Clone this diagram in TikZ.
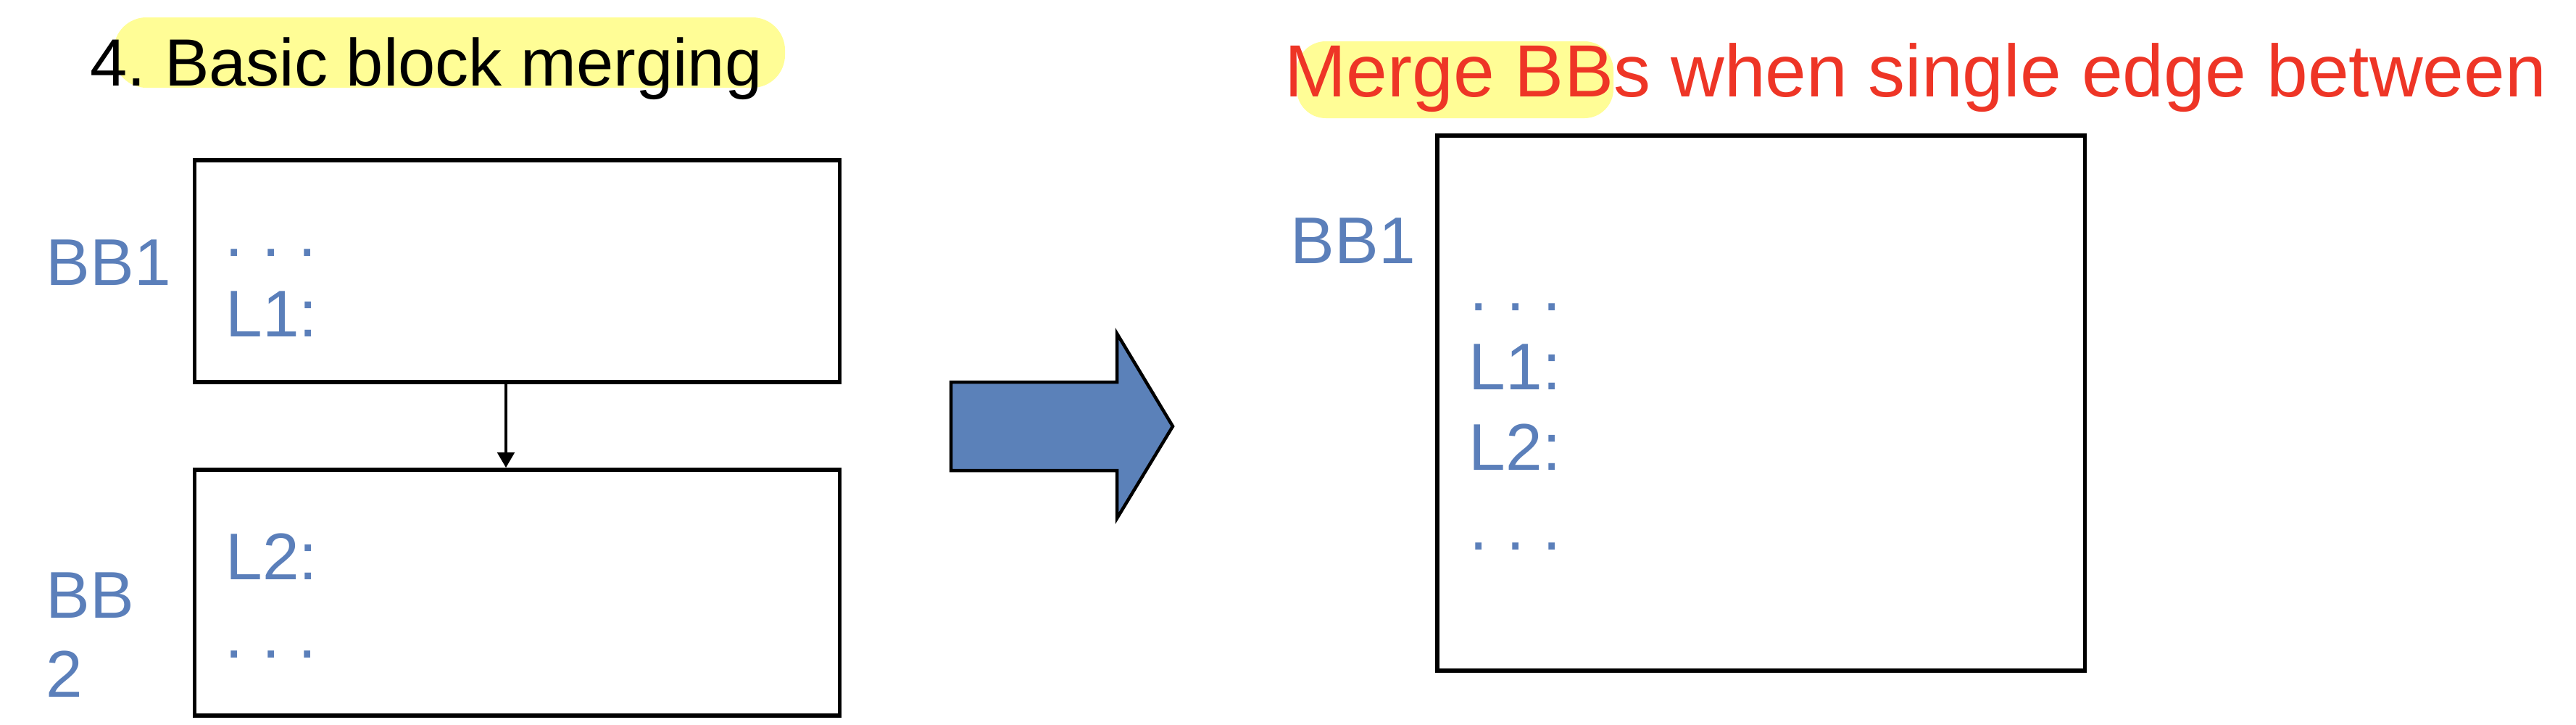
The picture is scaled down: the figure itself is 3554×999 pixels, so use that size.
\documentclass[tikz,border=0pt]{standalone}
\usepackage{fontspec}
\setmainfont{Liberation Sans}
\usetikzlibrary{arrows.meta}
\frenchspacing
\definecolor{bbblue}{HTML}{5B7FBA}
\definecolor{arrowblue}{HTML}{5B81B9}
\definecolor{titlered}{HTML}{EE3526}
\definecolor{hilite}{HTML}{FFFD96}
\tikzset{
  bbbox/.style={draw=black, line width=0.055cm, inner sep=0pt, minimum width=8.9cm},
  codetext/.style={anchor=base west, inner sep=0pt, text=bbblue, font=\frenchspacing\fontsize{25.9pt}{31pt}\selectfont},
  titletext/.style={anchor=base west, inner sep=0pt, font=\frenchspacing\fontsize{26.2pt}{31pt}\selectfont},
  redtext/.style={anchor=base west, inner sep=0pt, text=titlered, font=\frenchspacing\fontsize{29pt}{34pt}\selectfont},
  edge/.style={line width=0.045cm, -{Triangle[width=0.23cm,length=0.21cm]}},
  bigarrow/.style={draw=black, fill=arrowblue, line width=0.045cm, line join=miter},
}
\begin{document}
\begin{tikzpicture}[x=0.01cm,y=-0.01cm]
\useasboundingbox (0,0) rectangle (3554,999);
% highlights
\fill[hilite, rounded corners=0.45cm] (157,24) rectangle (1083,121);
\fill[hilite, rounded corners=0.4cm] (1789,57) rectangle (2226,163);
% titles
\node[titletext] (title) at (124,118) {4. Basic block merging};
\node[redtext] (merge) at (1772,133) {Merge BBs when single edge between};
% left boxes
\node[bbbox, minimum width=8.89cm, minimum height=3.06cm] (b1) at (713.5,374) {};
\node[bbbox, minimum width=8.89cm, minimum height=3.39cm] (b2) at (713.5,817.5) {};
\node[codetext] (lbb1) at (63,393) {BB1};
\node[codetext] (ld1) at (310,353) {. . .};
\node[codetext] (ll1) at (311,464) {L1:};
\node[codetext] (lbb2a) at (63,852) {BB};
\node[codetext] (lbb2b) at (63,961) {2};
\node[codetext] (ll2) at (311,799) {L2:};
\node[codetext] (ld2) at (310,907) {. . .};
\coordinate (ax) at (698,0);
\draw[edge] (b1.south -| ax) -- (b2.north -| ax);
% big arrow
\draw[bigarrow] (1312,527) -- (1541,527) -- (1541,460) -- (1618,588) -- (1541,715) -- (1541,649) -- (1312,649) -- cycle;
% right box
\node[bbbox, minimum width=8.93cm, minimum height=7.38cm] (m) at (2429.5,556) {};
\node[codetext] (rbb1) at (1780,363) {BB1};
\node[codetext] (rd1) at (2027,428) {. . .};
\node[codetext] (rl1) at (2026,537) {L1:};
\node[codetext] (rl2) at (2026,648) {L2:};
\node[codetext] (rd2) at (2027,758) {. . .};
\end{tikzpicture}
\end{document}
